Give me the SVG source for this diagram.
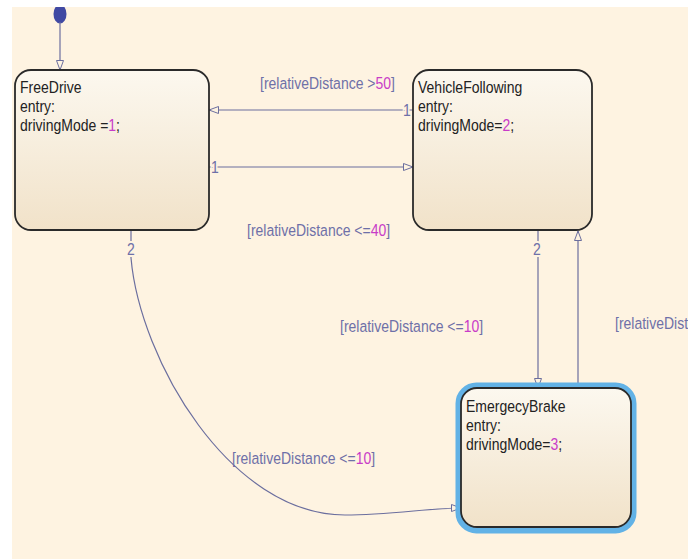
<svg xmlns="http://www.w3.org/2000/svg" width="699" height="559" viewBox="0 0 699 559">
<style>
.t{font-family:"Liberation Sans",Arial,sans-serif;font-size:17px;fill:#222}
.lbl{font-family:"Liberation Sans",Arial,sans-serif;font-size:17px;fill:#6e70a8}
.num{fill:#c83cc8}
.st{stroke:#2a2a2a;stroke-width:1.8}
.cn{fill:none;stroke:#6b6e9e;stroke-width:1.2}
.bg{stroke:#fef3e1;stroke-width:4;paint-order:stroke}
</style>
<defs>
<linearGradient id="sg" x1="0" y1="0" x2="0" y2="1">
<stop offset="0" stop-color="#fcf8ef"/>
<stop offset="1" stop-color="#f1e2c9"/>
</linearGradient>
<marker id="ah" markerWidth="12" markerHeight="9" refX="10" refY="4" orient="auto" markerUnits="userSpaceOnUse">
<path d="M0.5,0.5 L10,4 L0.5,7.5 z" fill="#fef3e1" stroke="#6b6e9e" stroke-width="1"/>
</marker>
<clipPath id="cl"><rect x="12" y="7" width="676" height="552"/></clipPath>
</defs>
<rect x="0" y="0" width="699" height="559" fill="#ffffff"/>
<rect x="12" y="7" width="676" height="552" fill="#fef3e1"/>
<g clip-path="url(#cl)">
<g id="connectors">
<ellipse cx="60" cy="14" rx="6.5" ry="9.5" fill="#4049a3"/>
<path class="cn" d="M60,22 L60,70" marker-end="url(#ah)"/>
<path class="cn" d="M413,110 L209,110" marker-end="url(#ah)"/>
<path class="cn" d="M208,167 L413,167" marker-end="url(#ah)"/>
<path class="cn" d="M538,230 L538,388" marker-end="url(#ah)"/>
<path class="cn" d="M578,383 L578,231" marker-end="url(#ah)"/>
<path class="cn" d="M131,230 L131,258 C140,360 230,515 345,515 C390,515 430,508 461,508" marker-end="url(#ah)"/>
<text class="lbl bg" text-anchor="middle" transform="translate(407,116) scale(0.824,1)">1</text>
<text class="lbl bg" text-anchor="middle" transform="translate(215,173) scale(0.824,1)">1</text>
<text class="lbl bg" text-anchor="middle" transform="translate(537,255) scale(0.824,1)">2</text>
<text class="lbl bg" text-anchor="middle" transform="translate(131,255) scale(0.824,1)">2</text>
<text class="lbl" transform="translate(260,89) scale(0.824,1)">[relativeDistance &gt;<tspan class="num">50</tspan>]</text>
<text class="lbl" transform="translate(247,236) scale(0.824,1)">[relativeDistance &lt;=<tspan class="num">40</tspan>]</text>
<text class="lbl" transform="translate(340,332) scale(0.824,1)">[relativeDistance &lt;=<tspan class="num">10</tspan>]</text>
<text class="lbl" transform="translate(615,329) scale(0.824,1)">[relativeDist</text>
<text class="lbl" transform="translate(232,464) scale(0.824,1)">[relativeDistance &lt;=<tspan class="num">10</tspan>]</text>
</g>
<g id="FreeDrive">
<rect class="st" x="15" y="70" width="194" height="160" rx="16" fill="url(#sg)"/>
<text class="t" transform="translate(20,93) scale(0.824,1)">FreeDrive</text>
<text class="t" transform="translate(20,112) scale(0.824,1)">entry:</text>
<text class="t" transform="translate(20,131) scale(0.824,1)">drivingMode =<tspan class="num">1</tspan>;</text>
</g>
<g id="VehicleFollowing">
<rect class="st" x="413" y="70" width="179" height="160" rx="16" fill="url(#sg)"/>
<text class="t" transform="translate(418,93) scale(0.824,1)">VehicleFollowing</text>
<text class="t" transform="translate(418,112) scale(0.824,1)">entry:</text>
<text class="t" transform="translate(418,131) scale(0.824,1)">drivingMode=<tspan class="num">2</tspan>;</text>
</g>
<g id="EmergecyBrake">
<rect x="458.5" y="385.5" width="175" height="145" rx="18" fill="none" stroke="#62b2e6" stroke-width="6"/>
<rect class="st" x="461" y="388" width="170" height="139" rx="16" fill="url(#sg)"/>
<text class="t" transform="translate(466,412) scale(0.824,1)">EmergecyBrake</text>
<text class="t" transform="translate(466,431) scale(0.824,1)">entry:</text>
<text class="t" transform="translate(466,450) scale(0.824,1)">drivingMode=<tspan class="num">3</tspan>;</text>
</g>
</g>
</svg>
